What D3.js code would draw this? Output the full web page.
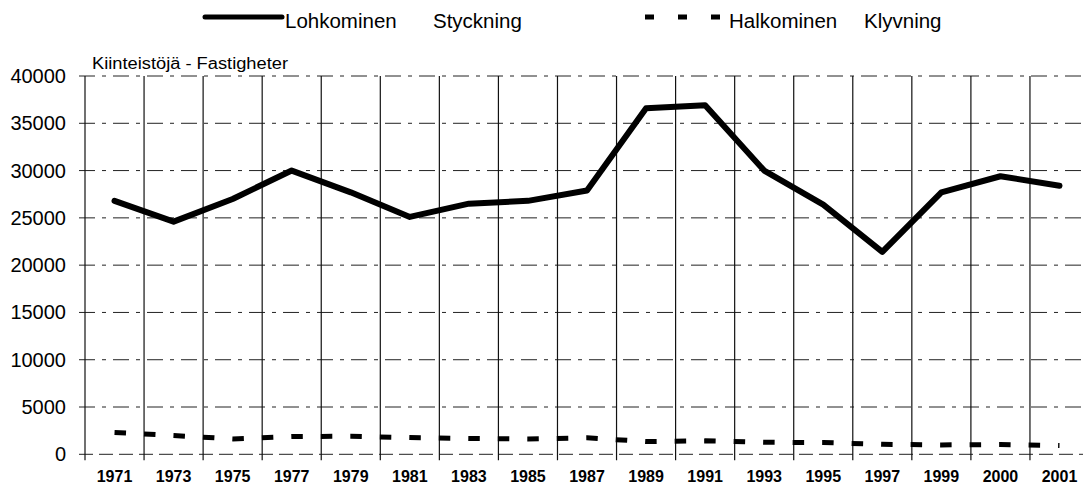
<!DOCTYPE html>
<html>
<head>
<meta charset="utf-8">
<script src="https://cdn.jsdelivr.net/npm/d3@7"></script>
<style>
  body { margin: 0; background: #fff; }
  text { font-family: "Liberation Sans", Arial, sans-serif; fill: #000; }
</style>
</head>
<body>
<svg id="chart" width="1083" height="489"></svg>
<script>
const years = ["1971", "1973", "1975", "1977", "1979", "1981", "1983", "1985", "1987",
  "1989", "1991", "1993", "1995", "1997", "1999", "2000", "2001"];
const lohkominen = [26800, 24600, 27000, 30000, 27700, 25100, 26500, 26800, 27900,
  36600, 36900, 30000, 26400, 21400, 27700, 29400, 28400];
const halkominen = [2300, 1990, 1630, 1880, 1910, 1770, 1670, 1630, 1740,
  1350, 1420, 1280, 1240, 1060, 990, 1030, 920];
const yTicks = [0, 5000, 10000, 15000, 20000, 25000, 30000, 35000, 40000];

// plot area runs a little past the right edge of the picture (cropped scan)
const width = 1083, height = 489;
const plotLeft = 85, bandW = 59.06;
const x = d3.scaleBand()
  .domain(years)
  .range([plotLeft, plotLeft + bandW * years.length])
  .padding(0);

const y = d3.scaleLinear()
  .domain([0, 40000])
  .range([454.3, 76]);

const svg = d3.select("#chart");

// horizontal grid
svg.append("g")
  .selectAll("line")
  .data(yTicks)
  .join("line")
    .attr("x1", plotLeft - 6)
    .attr("x2", width)
    .attr("y1", d => y(d))
    .attr("y2", d => y(d))
    .attr("stroke", "#222")
    .attr("stroke-width", 1)
    .attr("stroke-dasharray", d => d === 0 ? "14,6" : "16,7,4,7");

// vertical grid at category boundaries
const bounds = years.map(d => x(d));
svg.append("g")
  .selectAll("line")
  .data(bounds)
  .join("line")
    .attr("x1", d => d)
    .attr("x2", d => d)
    .attr("y1", y(40000))
    .attr("y2", y(0) + 6)
    .attr("stroke", "#111")
    .attr("stroke-width", 1.2);

// y labels
svg.append("g")
  .selectAll("text")
  .data(yTicks)
  .join("text")
    .attr("x", 66)
    .attr("y", d => y(d) + 7)
    .attr("text-anchor", "end")
    .attr("font-size", 20)
    .text(d => d);

// x labels
svg.append("g")
  .selectAll("text")
  .data(years)
  .join("text")
    .attr("x", d => x(d) + x.bandwidth() / 2)
    .attr("y", 482)
    .attr("text-anchor", "middle")
    .attr("font-size", 16)
    .attr("font-weight", "bold")
    .text(d => d);

// unit label
svg.append("text")
  .attr("x", 92)
  .attr("y", 69)
  .attr("font-size", 16)
  .attr("textLength", 196)
  .attr("lengthAdjust", "spacingAndGlyphs")
  .text("Kiinteistöjä - Fastigheter");

const line = d3.line()
  .x((d, i) => x(years[i]) + x.bandwidth() / 2)
  .y(d => y(d));

svg.append("path")
  .datum(lohkominen)
  .attr("fill", "none")
  .attr("stroke", "#000")
  .attr("stroke-width", 6)
  .attr("stroke-linejoin", "round")
  .attr("stroke-linecap", "round")
  .attr("d", line);

svg.append("path")
  .datum(halkominen)
  .attr("fill", "none")
  .attr("stroke", "#000")
  .attr("stroke-width", 5)
  .attr("stroke-dasharray", "11.5,18")
  .attr("d", line);

// legend
const legend = svg.append("g").attr("font-size", 20.5);
legend.append("line")
  .attr("x1", 205).attr("x2", 282).attr("y1", 17).attr("y2", 17)
  .attr("stroke", "#000").attr("stroke-width", 5).attr("stroke-linecap", "round");
legend.append("text").attr("x", 285).attr("y", 27.5).text("Lohkominen");
legend.append("text").attr("x", 433).attr("y", 27.5).text("Styckning");

legend.append("line")
  .attr("x1", 645).attr("x2", 720).attr("y1", 17).attr("y2", 17)
  .attr("stroke", "#000").attr("stroke-width", 5)
  .attr("stroke-dasharray", "9,24");
legend.append("text").attr("x", 729).attr("y", 27.5).text("Halkominen");
legend.append("text").attr("x", 864).attr("y", 27.5).text("Klyvning");
</script>
</body>
</html>
